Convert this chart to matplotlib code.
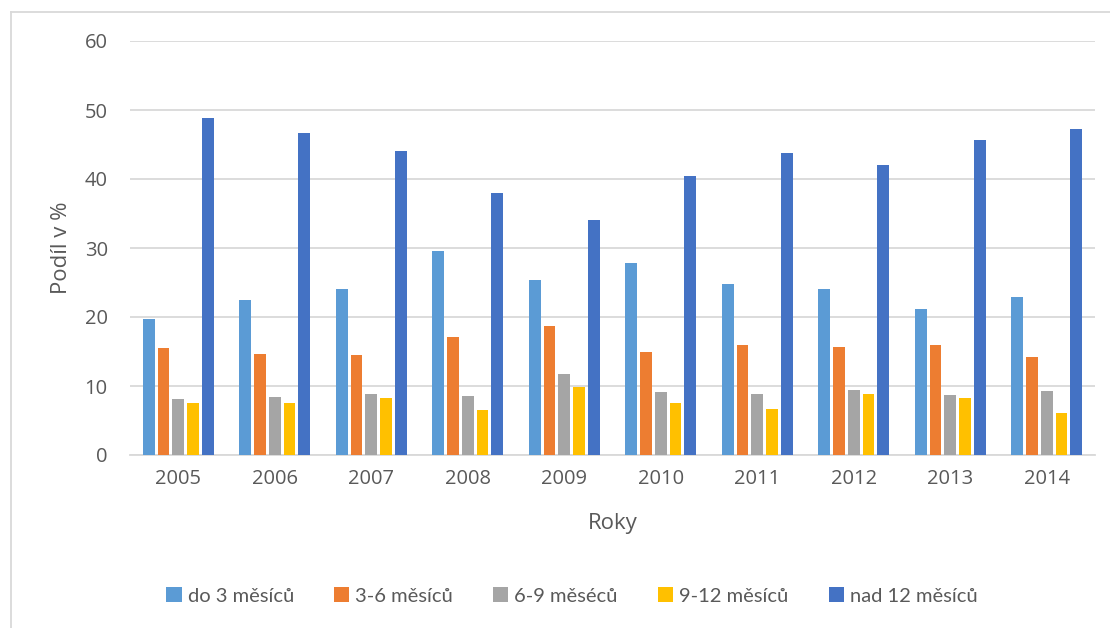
import matplotlib
matplotlib.use("Agg")
import matplotlib.pyplot as plt
from matplotlib.lines import Line2D
from matplotlib.patches import Patch
import numpy as np

years = ["2005", "2006", "2007", "2008", "2009", "2010", "2011", "2012", "2013", "2014"]
series_names = ["do 3 měsíců", "3-6 měsíců", "6-9 měséců", "9-12 měsíců", "nad 12 měsíců"]
do3 = [19.7, 22.4, 24.1, 29.6, 25.4, 27.8, 24.8, 24.0, 21.1, 22.9]
m3_6 = [15.5, 14.6, 14.5, 17.1, 18.7, 14.9, 15.9, 15.6, 16.0, 14.2]
m6_9 = [8.1, 8.45, 8.9, 8.6, 11.8, 9.1, 8.8, 9.4, 8.7, 9.3]
m9_12 = [7.6, 7.6, 8.2, 6.5, 9.9, 7.5, 6.6, 8.8, 8.3, 6.1]
nad12 = [48.8, 46.7, 44.0, 37.9, 34.0, 40.4, 43.7, 42.0, 45.7, 47.3]
colors = ["#5B9BD5", "#ED7D31", "#A5A5A5", "#FFC000", "#4472C4"]

W, H = 1110, 628
fig = plt.figure(figsize=(W / 100, H / 100), dpi=100)
ax = fig.add_axes([130 / W, 1 - 455 / H, (1095 - 130) / W, (455 - 41) / H])

txt = "#595959"
font = "Open Sans"
x = np.arange(len(years))
pitch = 0.153
bw = 0.121
data = [do3, m3_6, m6_9, m9_12, nad12]
for i, (vals, c) in enumerate(zip(data, colors)):
    ax.bar(x + (i - 2) * pitch, vals, width=bw, color=c, zorder=3)

ax.set_xlim(-0.5, len(years) - 0.5)
ax.set_ylim(0, 60)
ax.set_yticks(range(0, 61, 10))
ax.set_xticks(x)
ax.set_xticklabels(years)
ax.grid(axis="y", color="#d9d9d9", linewidth=1.3, zorder=0)
for s in ["top", "right", "left"]:
    ax.spines[s].set_visible(False)
ax.spines["bottom"].set_color("#d9d9d9")
ax.spines["bottom"].set_linewidth(1.3)
ax.tick_params(axis="both", length=0, labelsize=14.5, labelcolor=txt)
ax.tick_params(axis="x", pad=10)
ax.tick_params(axis="y", pad=16)
for lab in ax.get_xticklabels() + ax.get_yticklabels():
    lab.set_fontfamily(font)

ax.set_ylabel("Podíl v %", fontsize=16, color=txt, family=font, labelpad=9)
ax.set_xlabel("Roky", fontsize=16, color=txt, family=font, labelpad=17)

# chart border (top and left visible)
fig.add_artist(Line2D([11 / W, 1.0], [1 - 12 / H, 1 - 12 / H], color="#d9d9d9", lw=1.3))
fig.add_artist(Line2D([11 / W, 11 / W], [1 - 12 / H, 0.0], color="#d9d9d9", lw=1.3))

handles = [Patch(facecolor=c, edgecolor="none") for c in colors]
leg = fig.legend(handles, series_names, loc="center", bbox_to_anchor=(572 / W, 1 - 596 / H),
                 ncol=5, frameon=False, handlelength=0.75, handleheight=0.75,
                 handletextpad=0.3, columnspacing=2.0,
                 prop={"family": "Lato", "size": 14.5})
for t in leg.get_texts():
    t.set_color(txt)

fig.savefig("out.png", dpi=100)
